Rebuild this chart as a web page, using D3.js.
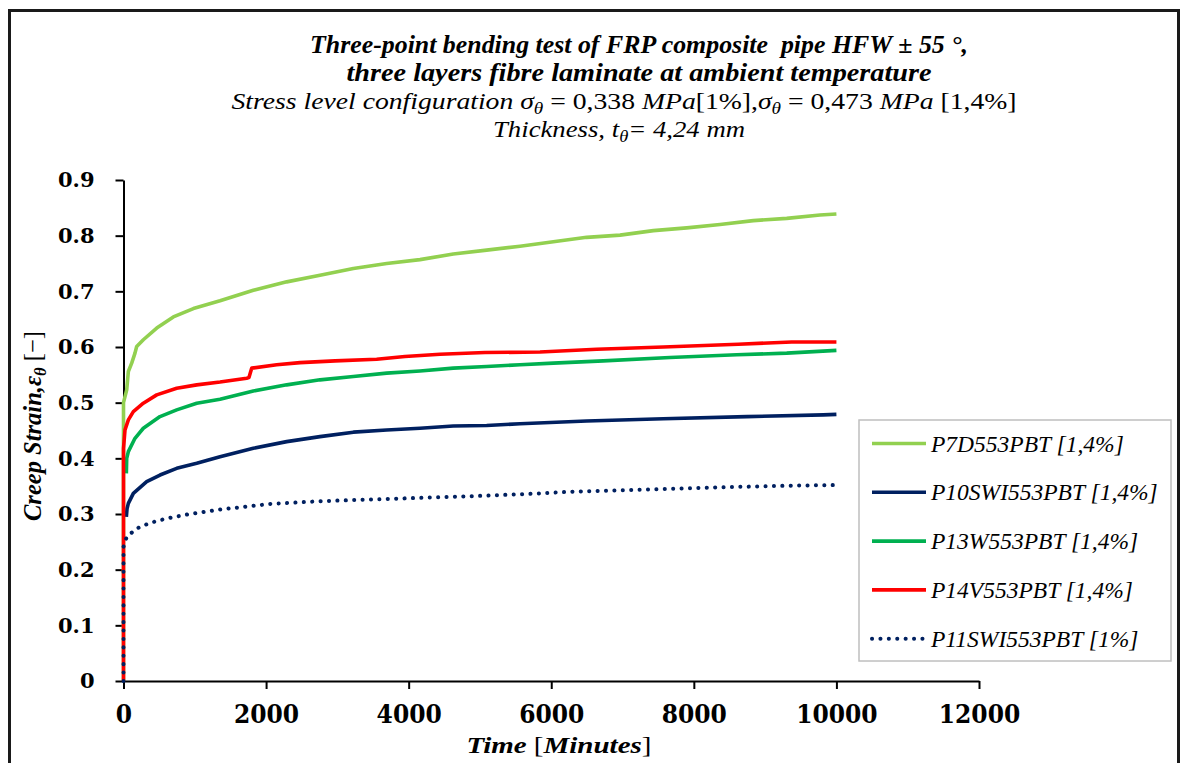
<!DOCTYPE html>
<html><head><meta charset="utf-8">
<script src="https://cdn.jsdelivr.net/npm/d3@7"></script>
<style>
html,body{margin:0;padding:0;background:#fff;}
svg{display:block;}
</style></head>
<body>
<svg id="chart" width="1180" height="763"></svg>
<script>
// ---- data ----
const xTicks = [0, 2000, 4000, 6000, 8000, 10000, 12000];
const yTicks = [0, 0.1, 0.2, 0.3, 0.4, 0.5, 0.6, 0.7, 0.8, 0.9];

const seriesNames = ["P7D553PBT [1,4%]", "P10SWI553PBT [1,4%]", "P13W553PBT [1,4%]", "P14V553PBT [1,4%]", "P11SWI553PBT [1%]"];

const p7dTime   = [0, 0, 45, 68, 115, 161, 185, 278, 466, 699, 980, 1354, 1821, 2289, 2756, 3224, 3692, 4159, 4626, 5094, 5562, 6029, 6497, 6965, 7432, 7900, 8367, 8834, 9303, 9770, 10000];
const p7dStrain = [0, 0.50, 0.523, 0.556, 0.571, 0.589, 0.601, 0.613, 0.634, 0.654, 0.669, 0.683, 0.702, 0.717, 0.729, 0.741, 0.750, 0.757, 0.767, 0.774, 0.781, 0.789, 0.797, 0.801, 0.809, 0.814, 0.820, 0.827, 0.831, 0.837, 0.839];

const p10Time   = [40, 50, 68, 138, 325, 512, 746, 1027, 1354, 1821, 2289, 2756, 3224, 3692, 4159, 4626, 5094, 5562, 6497, 7572, 8742, 9816, 10000];
const p10Strain = [0.295, 0.310, 0.319, 0.337, 0.358, 0.370, 0.382, 0.391, 0.403, 0.418, 0.430, 0.439, 0.447, 0.451, 0.454, 0.458, 0.459, 0.462, 0.467, 0.471, 0.475, 0.478, 0.479];

const p13Time   = [40, 45, 68, 161, 278, 512, 746, 1027, 1354, 1821, 2289, 2756, 3224, 3692, 4159, 4626, 5094, 5562, 6029, 6730, 7666, 8601, 9303, 10000];
const p13Strain = [0.373, 0.400, 0.412, 0.436, 0.454, 0.475, 0.487, 0.499, 0.506, 0.521, 0.532, 0.541, 0.547, 0.553, 0.557, 0.562, 0.565, 0.568, 0.571, 0.575, 0.581, 0.586, 0.589, 0.594];

const p14Time   = [0, 0, 21, 68, 138, 278, 466, 746, 1027, 1354, 1728, 1760, 1798, 2149, 2476, 2967, 3551, 3948, 4440, 5071, 5842, 6637, 7572, 8624, 9372, 10000];
const p14Strain = [0, 0.418, 0.451, 0.469, 0.484, 0.499, 0.514, 0.526, 0.532, 0.537, 0.544, 0.545, 0.562, 0.568, 0.572, 0.575, 0.578, 0.583, 0.587, 0.590, 0.591, 0.596, 0.600, 0.605, 0.609, 0.609];

const p11Time   = [0, 0, 45, 185, 372, 606, 933, 1354, 2055, 2756, 3458, 4159, 5094, 5842, 6263, 7339, 8367, 9396, 10000];
const p11Strain = [0, 0.241, 0.259, 0.274, 0.284, 0.292, 0.300, 0.308, 0.318, 0.323, 0.326, 0.329, 0.333, 0.337, 0.340, 0.344, 0.348, 0.351, 0.352];

// ---- build ----
const series = [
  {name: seriesNames[0], t: p7dTime, v: p7dStrain, color: "#92D050", dotted: false},
  {name: seriesNames[1], t: p10Time, v: p10Strain, color: "#002060", dotted: false},
  {name: seriesNames[2], t: p13Time, v: p13Strain, color: "#00B050", dotted: false},
  {name: seriesNames[3], t: p14Time, v: p14Strain, color: "#FF0000", dotted: false},
  {name: seriesNames[4], t: p11Time, v: p11Strain, color: "#002060", dotted: true}
];

const svg = d3.select("#chart");

// outer frame
svg.append("rect").attr("x", 9.5).attr("y", 10.5).attr("width", 1169).attr("height", 800)
  .attr("fill", "#fff").attr("stroke", "#1a1a1a").attr("stroke-width", 3);

const x = d3.scaleLinear().domain([0, 12000]).range([123.5, 979]);
const y = d3.scaleLinear().domain([0, 0.9]).range([681, 180]);

const serif = "'DejaVu Serif', serif";
const serifC = "'DejaVu Serif Condensed', 'DejaVu Serif', serif";
const tf = "'Liberation Serif', serif";

// axes
const xAxis = svg.append("g").attr("transform", `translate(0,${y(0)})`)
  .call(d3.axisBottom(x).tickValues(xTicks).tickFormat(d3.format("d")).tickSize(8).tickSizeOuter(0).tickPadding(16));
const yAxis = svg.append("g").attr("transform", `translate(${x(0)},0)`)
  .call(d3.axisLeft(y).tickValues(yTicks).tickFormat(d => d === 0 ? "0" : d3.format(".1f")(d)).tickSize(8).tickSizeOuter(0).tickPadding(21));

[xAxis, yAxis].forEach(g => {
  g.selectAll("path.domain").attr("stroke", "#000").attr("stroke-width", 2);
  g.selectAll(".tick line").attr("stroke", "#000").attr("stroke-width", 2);
});
xAxis.selectAll(".tick text").attr("font-family", serifC).attr("font-weight", "bold")
  .attr("font-size", 26).attr("fill", "#000");
yAxis.selectAll(".tick text").attr("font-family", serif).attr("font-weight", "bold")
  .attr("font-size", 21).attr("fill", "#000");

// lines
const line = d3.line().x(d => x(d[0])).y(d => y(d[1]));
series.forEach(s => {
  const pts = s.t.map((t, i) => [t, s.v[i]]);
  const p = svg.append("path").datum(pts).attr("d", line)
    .attr("fill", "none").attr("stroke", s.color)
    .attr("stroke-width", s.dotted ? 4 : 3.6)
    .attr("stroke-linejoin", "round");
  if (s.dotted) p.attr("stroke-dasharray", "0.1 8.3").attr("stroke-linecap", "round");
});

// titles
svg.append("text").attr("x", 639).attr("y", 53).attr("text-anchor", "middle")
  .attr("font-family", tf).attr("font-style", "italic").attr("font-weight", "bold").attr("font-size", 25)
  .attr("textLength", 658).attr("lengthAdjust", "spacingAndGlyphs")
  .text("Three-point bending test of FRP composite \u00A0pipe HFW ± 55 °,");
svg.append("text").attr("x", 639).attr("y", 81).attr("text-anchor", "middle")
  .attr("font-family", tf).attr("font-style", "italic").attr("font-weight", "bold").attr("font-size", 25)
  .attr("textLength", 585).attr("lengthAdjust", "spacingAndGlyphs")
  .text("three layers fibre laminate at ambient temperature");

const l3 = svg.append("text").attr("x", 624).attr("y", 109).attr("text-anchor", "middle")
  .attr("font-family", tf).attr("font-size", 23).attr("textLength", 785).attr("lengthAdjust", "spacingAndGlyphs");
const parts3 = [
  ["Stress level configuration ", "italic", 0], ["σ", "italic", 0], ["θ", "italic", 1],
  [" = 0,338 ", "normal", 0], ["MPa", "italic", 0], ["[1%],", "normal", 0],
  ["σ", "italic", 0], ["θ", "italic", 1], [" = 0,473 ", "normal", 0], ["MPa", "italic", 0], [" [1,4%]", "normal", 0]
];
parts3.forEach((p, i) => {
  const ts = l3.append("tspan").attr("font-style", p[1]).text(p[0]);
  if (p[2]) ts.attr("font-size", 16).attr("dy", 5);
  else if (i > 0 && parts3[i - 1][2]) ts.attr("dy", -5);
});

const l4 = svg.append("text").attr("x", 619).attr("y", 137).attr("text-anchor", "middle")
  .attr("font-family", tf).attr("font-style", "italic").attr("font-size", 23)
  .attr("textLength", 252).attr("lengthAdjust", "spacingAndGlyphs");
l4.append("tspan").text("Thickness, t");
l4.append("tspan").attr("font-size", 16).attr("dy", 5).text("θ");
l4.append("tspan").attr("dy", -5).text("= 4,24 mm");

// y axis label
const yl = svg.append("text").attr("transform", "translate(41,426) rotate(-90)")
  .attr("text-anchor", "middle").attr("font-family", tf).attr("font-size", 25).attr("fill", "#000")
  .attr("textLength", 190).attr("lengthAdjust", "spacingAndGlyphs");
yl.append("tspan").attr("font-weight", "bold").attr("font-style", "italic").text("Creep Strain,");
yl.append("tspan").attr("font-weight", "bold").attr("font-style", "italic").text("ε");
yl.append("tspan").attr("font-weight", "bold").attr("font-style", "italic").attr("font-size", 17).attr("dy", 5).text("θ");
yl.append("tspan").attr("dy", -5).text(" [−]");

// x axis label
const xl = svg.append("text").attr("x", 559).attr("y", 753).attr("text-anchor", "middle")
  .attr("font-family", tf).attr("font-size", 24).attr("fill", "#000")
  .attr("textLength", 185).attr("lengthAdjust", "spacingAndGlyphs");
xl.append("tspan").attr("font-weight", "bold").attr("font-style", "italic").text("Time ");
xl.append("tspan").text("[");
xl.append("tspan").attr("font-weight", "bold").attr("font-style", "italic").text("Minutes");
xl.append("tspan").text("]");

// legend
const lg = svg.append("g");
lg.append("rect").attr("x", 859).attr("y", 420).attr("width", 312).attr("height", 241)
  .attr("fill", "#fff").attr("stroke", "#BFBFBF").attr("stroke-width", 1.5);
series.forEach((s, i) => {
  const cy = 443.5 + i * 48.8;
  const ln = lg.append("line").attr("x1", 872).attr("x2", 926).attr("y1", cy).attr("y2", cy)
    .attr("stroke", s.color).attr("stroke-width", s.dotted ? 4 : 3.6);
  if (s.dotted) ln.attr("stroke-dasharray", "0.1 8.3").attr("stroke-linecap", "round");
  lg.append("text").attr("x", 931).attr("y", cy + 8).attr("font-family", tf)
    .attr("font-style", "italic").attr("font-size", 23.5).attr("fill", "#000").text(s.name);
});
</script>
</body></html>
